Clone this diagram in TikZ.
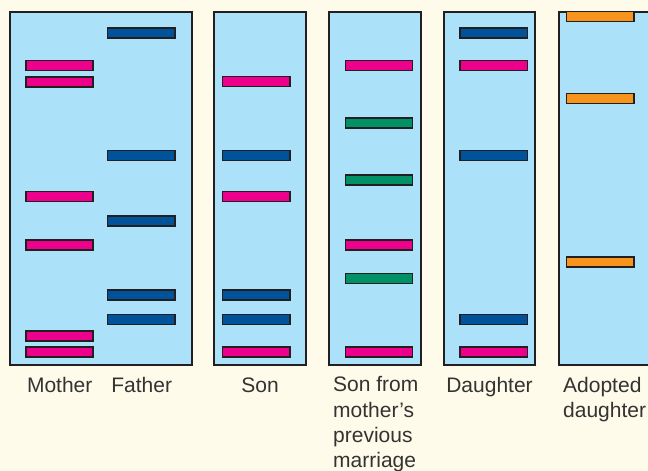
\documentclass[tikz,border=0pt]{standalone}
\usepackage{fontspec}
\setmainfont{Liberation Sans}
\definecolor{cream}{HTML}{FFFBEA}
\definecolor{gel}{HTML}{ACE1FA}
\definecolor{edge}{HTML}{231F20}
\definecolor{magband}{HTML}{EC008C}
\definecolor{blueband}{HTML}{00529B}
\definecolor{greenband}{HTML}{009167}
\definecolor{orangeband}{HTML}{F7941E}
\definecolor{ink}{HTML}{333333}

\begin{document}
\begin{tikzpicture}[x=1pt,y=-1pt,
  lane/.style={fill=gel,draw=edge,line width=2pt},
  band/.style={draw=edge,line width=1.6pt},
  caption/.style={text=ink,font=\fontsize{21}{25.3}\selectfont,inner sep=0pt,align=left}]
  \useasboundingbox[fill=cream] (0,0) rectangle (648,471);
  % gel lanes
  \draw[lane] (10,12) rectangle (191.5,365);
  \draw[lane] (214,12) rectangle (306,365);
  \draw[lane] (329,12) rectangle (420.5,365);
  \draw[lane] (443.5,12) rectangle (535,365);
  \draw[lane] (558.5,12) rectangle (660,365);
  % mother and father
  \foreach \y in {65.5,82,196.5,245,336,352}
    \draw[band,fill=magband] (26,\y-5) rectangle (93,\y+5);
  \foreach \y in {32.7,155.5,221,295,319.3}
    \draw[band,fill=blueband] (107.5,\y-5) rectangle (175,\y+5);
  % son
  \foreach \y in {81.5,196.5,352}
    \draw[band,fill=magband] (222.5,\y-5) rectangle (290,\y+5);
  \foreach \y in {155.5,295,319.3}
    \draw[band,fill=blueband] (222.5,\y-5) rectangle (290,\y+5);
  % son from previous marriage
  \foreach \y in {65.5,245,352}
    \draw[band,fill=magband] (345.5,\y-5) rectangle (412.5,\y+5);
  \foreach \y in {123,180,278.3}
    \draw[band,fill=greenband] (345.5,\y-5) rectangle (412.5,\y+5);
  % daughter
  \foreach \y in {32.7,155.5,319.3}
    \draw[band,fill=blueband] (460,\y-5) rectangle (527.5,\y+5);
  \foreach \y in {65.5,352}
    \draw[band,fill=magband] (460,\y-5) rectangle (527.5,\y+5);
  % adopted daughter
  \foreach \y in {16.5,98.3,262}
    \draw[band,fill=orangeband] (566.5,\y-5) rectangle (634,\y+5);
  % captions
  \node[caption,anchor=base] (mother) at (59.7,392) {Mother};
  \node[caption,anchor=base] (father) at (141.7,392) {Father};
  \node[caption,anchor=base] (son) at (260,392) {Son};
  \node[caption,anchor=north west] (stepson) at (333,376.5) {Son from\\mother’s\\previous\\marriage};
  \node[caption,anchor=base] (daughter) at (489.5,392) {Daughter};
  \node[caption,anchor=north west] (adopted) at (563,376.8) {Adopted\\daughter};
\end{tikzpicture}
\end{document}
